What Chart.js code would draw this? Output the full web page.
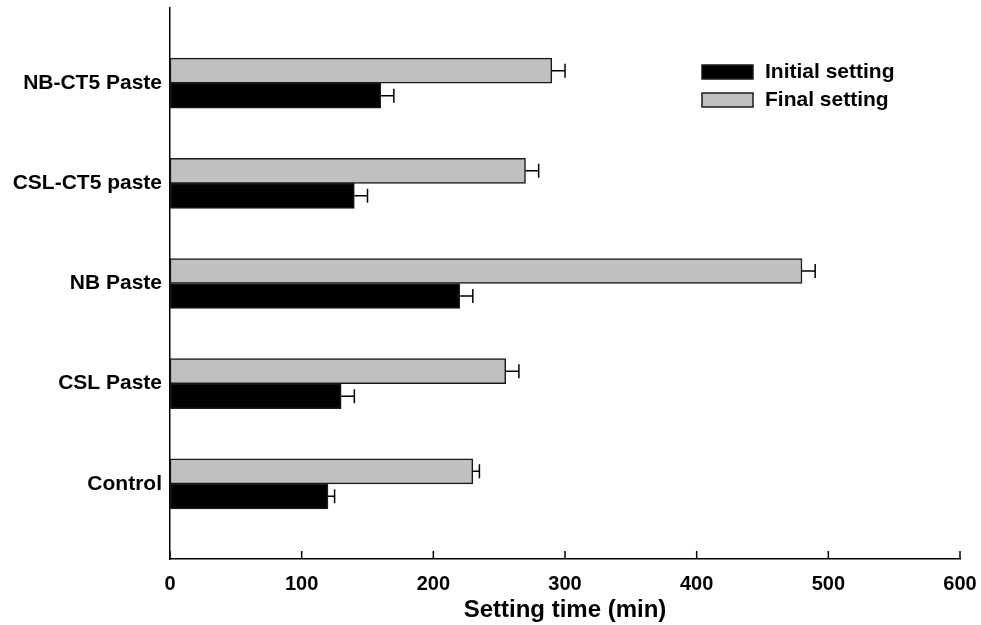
<!DOCTYPE html>
<html>
<head>
<meta charset="utf-8">
<script src="https://cdn.jsdelivr.net/npm/chart.js@4.4.0/dist/chart.umd.min.js"></script>
<style>
  html, body { margin: 0; padding: 0; background: #fff; }
  #wrap { width: 981px; height: 625px; }
</style>
</head>
<body>
<div id="wrap"><canvas id="chart" width="981" height="625"></canvas></div>
<script>
// --- data ---
const categories = ['NB-CT5 Paste', 'CSL-CT5 paste', 'NB Paste', 'CSL Paste', 'Control'];
const finalSetting = [290, 270, 480, 255, 230];
const finalErr     = [10, 10, 10, 10, 5];
const initialSetting = [160, 140, 220, 130, 120];
const initialErr     = [10, 10, 10, 10, 5];
const xTicks = [0, 100, 200, 300, 400, 500, 600];

const FONT = "'Liberation Sans', Arial, sans-serif";

function toPoints(vals) {
    return vals.map((v, i) => ({ x: v, y: i }));
}

// error bars, drawn from the value to value+err on the x scale
const errorBars = {
    id: 'errorBars',
    afterDatasetsDraw(chart) {
        const ctx = chart.ctx;
        const xs = chart.scales.x;
        ctx.save();
        ctx.strokeStyle = '#000';
        ctx.lineWidth = 1.5;
        chart.data.datasets.forEach((ds, di) => {
            const meta = chart.getDatasetMeta(di);
            meta.data.forEach((bar, i) => {
                const v = ds.data[i].x;
                const e = ds.errors[i];
                const x0 = xs.getPixelForValue(v);
                const x1 = xs.getPixelForValue(v + e);
                ctx.beginPath();
                ctx.moveTo(x0, bar.y);
                ctx.lineTo(x1, bar.y);
                ctx.moveTo(x1, bar.y - 7);
                ctx.lineTo(x1, bar.y + 7);
                ctx.stroke();
            });
        });
        ctx.restore();
    }
};

// inward tick marks on the x axis
const innerTicks = {
    id: 'innerTicks',
    afterDraw(chart) {
        const ctx = chart.ctx;
        const xs = chart.scales.x;
        const bottom = chart.chartArea.bottom;
        ctx.save();
        ctx.strokeStyle = '#000';
        ctx.lineWidth = 1.5;
        xTicks.forEach(t => {
            const px = xs.getPixelForValue(t);
            ctx.beginPath();
            ctx.moveTo(px, bottom);
            ctx.lineTo(px, bottom - 8);
            ctx.stroke();
        });
        ctx.restore();
    }
};

// legend inside the plot, Initial first
const boxLegend = {
    id: 'boxLegend',
    afterDraw(chart) {
        const ctx = chart.ctx;
        const order = [1, 0];
        ctx.save();
        ctx.font = 'bold 21px ' + FONT;
        ctx.textBaseline = 'middle';
        ctx.textAlign = 'left';
        order.forEach((di, k) => {
            const ds = chart.data.datasets[di];
            const bx = 702, by = 65 + k * 28;
            ctx.fillStyle = ds.backgroundColor;
            ctx.fillRect(bx, by, 51, 14);
            ctx.strokeStyle = '#1a1a1a';
            ctx.lineWidth = 1.5;
            ctx.strokeRect(bx, by, 51, 14);
            ctx.fillStyle = '#000';
            ctx.fillText(ds.label, 765, by + 7);
        });
        ctx.restore();
    }
};

new Chart(document.getElementById('chart'), {
    type: 'bar',
    data: {
        datasets: [
            {
                label: 'Final setting',
                data: toPoints(finalSetting),
                errors: finalErr,
                backgroundColor: '#c0c0c0',
                borderColor: '#1a1a1a',
                borderWidth: 1.5,
                borderSkipped: false,
                barThickness: 25
            },
            {
                label: 'Initial setting',
                data: toPoints(initialSetting),
                errors: initialErr,
                backgroundColor: '#000000',
                borderColor: '#1a1a1a',
                borderWidth: 1.5,
                borderSkipped: false,
                barThickness: 25
            }
        ]
    },
    plugins: [errorBars, innerTicks, boxLegend],
    options: {
        indexAxis: 'y',
        responsive: false,
        animation: false,
        layout: { padding: { top: 8, right: 21, left: 0, bottom: 0 } },
        plugins: {
            legend: { display: false },
            tooltip: { enabled: false }
        },
        scales: {
            x: {
                type: 'linear',
                min: 0,
                max: 600,
                afterBuildTicks: s => { s.ticks = xTicks.map(v => ({ value: v })); },
                afterFit: s => { s.height = 66; s.paddingLeft = 0; s.paddingRight = 0; },
                grid: { display: false },
                border: { display: true, color: '#000', width: 1.5 },
                ticks: {
                    color: '#000',
                    padding: 5,
                    font: { family: FONT, size: 20, weight: 'bold' }
                },
                title: {
                    display: true,
                    text: 'Setting time (min)',
                    color: '#000',
                    padding: { top: 0, bottom: 0 },
                    font: { family: FONT, size: 24, weight: 'bold' }
                }
            },
            y: {
                type: 'linear',
                min: -0.75,
                max: 4.75,
                reverse: true,
                offset: false,
                afterBuildTicks: s => { s.ticks = categories.map((c, i) => ({ value: i })); },
                afterFit: s => { s.width = 170; s.paddingTop = 0; s.paddingBottom = 0; },
                grid: { display: false, offset: false },
                border: { display: true, color: '#000', width: 1.5 },
                ticks: {
                    color: '#000',
                    padding: 0,
                    font: { family: FONT, size: 21, weight: 'bold' },
                    callback: v => categories[v]
                }
            }
        }
    }
});
</script>
</body>
</html>
